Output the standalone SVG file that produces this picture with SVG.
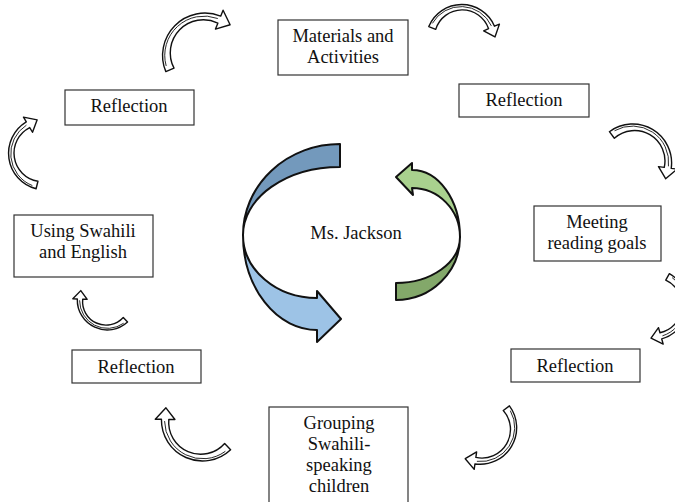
<svg xmlns="http://www.w3.org/2000/svg" xmlns:xlink="http://www.w3.org/1999/xlink" width="675" height="502" viewBox="0 0 675 502">
  <style>
    .box { fill: #ffffff; stroke: #333333; stroke-width: 1.2; }
    .lbl { font-family: "Liberation Serif", "Times New Roman", serif; font-size: 18.5px; fill: #111111; text-anchor: middle; }
    .ring { fill: #ffffff; stroke: #111111; stroke-width: 1.4; stroke-linejoin: round; }
    .fold { fill: none; stroke: #111111; stroke-width: 0.9; }
    .big { stroke: #111111; stroke-width: 2; stroke-linejoin: round; }
  </style>
  <defs>
    <!-- hollow curved arrow: centred on origin, radius 30, tail at 0deg, turning clockwise to the head at ~150deg -->
    <g id="curl">
      <path class="ring" vector-effect="non-scaling-stroke"
            d="M33.5,0 A33.3,33.3 0 0 1 -23.33,23.33 L-26.87,26.87 L-27.5,14.2 L-15.56,15.56 L-19.09,19.09 A26,26 0 0 0 26.5,0 Z"/>
      <path class="fold" vector-effect="non-scaling-stroke" d="M31.5,4 A31,31 0 0 1 -20.5,22.5"/>
    </g>
  </defs>

  <!-- central rotating arrows -->
  <g id="centre">
    <g id="blue-arrow">
      <path class="big" fill="#7399bc" d="M340,144 A97,91 0 0 0 243,235 A97,68 0 0 1 340,167 Z"/>
      <path class="big" fill="#9dc3e6" d="M243,235 A74,95 0 0 0 317,330 L317,342 L341,319 L317,291 L317,298 A74,63 0 0 1 243,235 Z"/>
    </g>
    <g id="green-arrow">
      <path class="big" fill="#a9d18e" d="M413,195 L396,177 L412,163 L412,170 A48,67 0 0 1 460,237 A48,49 0 0 0 412,188 Z"/>
      <path class="big" fill="#83a86a" d="M460,237 A64,63 0 0 1 396,300 L396,283 A64,46 0 0 0 460,237 Z"/>
    </g>
    <text class="lbl" x="356" y="239">Ms. Jackson</text>
  </g>

  <!-- small arrows linking the stages -->
  <g id="connectors">
    <use xlink:href="#curl" transform="translate(205,55) rotate(157) scale(1.27)"/>
    <use xlink:href="#curl" transform="translate(462,40) rotate(202) scale(1.07)"/>
    <use xlink:href="#curl" transform="translate(633,163) rotate(233) scale(1.17)"/>
    <use xlink:href="#curl" transform="translate(652,305) rotate(-61) scale(1.07)"/>
    <use xlink:href="#curl" transform="translate(480,428) rotate(-37) scale(1.1)"/>
    <use xlink:href="#curl" transform="translate(202,420) rotate(46) scale(1.23)"/>
    <use xlink:href="#curl" transform="translate(107,300) rotate(47) scale(0.9)"/>
    <use xlink:href="#curl" transform="translate(45,153) rotate(104) scale(1.1)"/>
  </g>

  <g id="materials">
    <rect class="box" x="278" y="20" width="130" height="55"/>
    <text class="lbl" x="343" y="42">Materials and</text>
    <text class="lbl" x="343" y="63">Activities</text>
  </g>
  <g id="reflection-1">
    <rect class="box" x="459" y="84" width="130" height="33"/>
    <text class="lbl" x="524" y="106">Reflection</text>
  </g>
  <g id="reading-goals">
    <rect class="box" x="534" y="206" width="127" height="55"/>
    <text class="lbl" x="597" y="228">Meeting</text>
    <text class="lbl" x="597" y="249">reading goals</text>
  </g>
  <g id="reflection-2">
    <rect class="box" x="511" y="349" width="129" height="33"/>
    <text class="lbl" x="575" y="372">Reflection</text>
  </g>
  <g id="grouping">
    <rect class="box" x="269" y="407" width="139" height="100"/>
    <text class="lbl" x="339" y="429">Grouping</text>
    <text class="lbl" x="339" y="450">Swahili-</text>
    <text class="lbl" x="339" y="471">speaking</text>
    <text class="lbl" x="339" y="492">children</text>
  </g>
  <g id="reflection-3">
    <rect class="box" x="72" y="350" width="129" height="33"/>
    <text class="lbl" x="136" y="373">Reflection</text>
  </g>
  <g id="languages">
    <rect class="box" x="14" y="215" width="139" height="62"/>
    <text class="lbl" x="83" y="237">Using Swahili</text>
    <text class="lbl" x="83" y="258">and English</text>
  </g>
  <g id="reflection-4">
    <rect class="box" x="65" y="90" width="129" height="35"/>
    <text class="lbl" x="129" y="112">Reflection</text>
  </g>
</svg>
